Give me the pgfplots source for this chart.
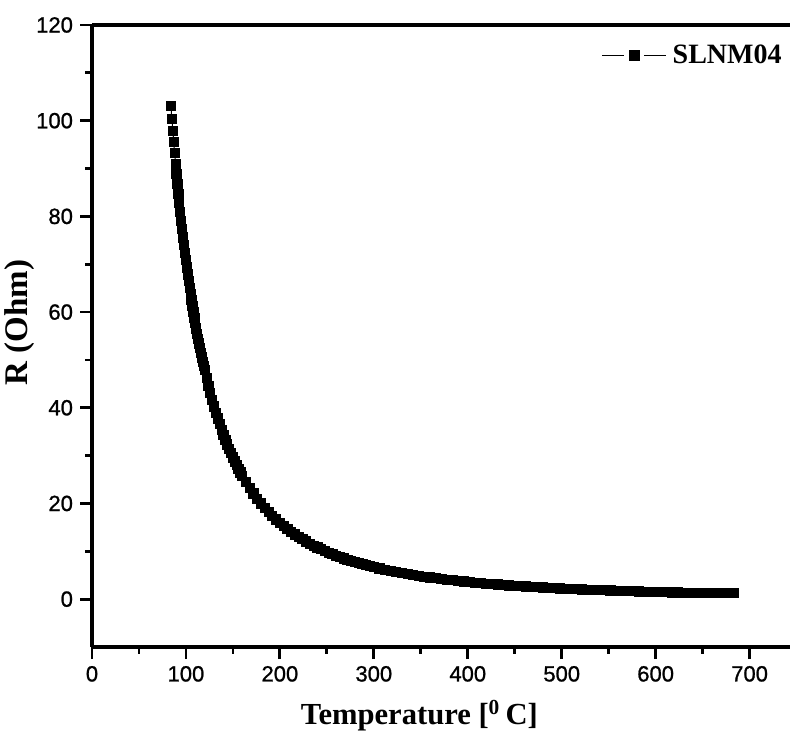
\documentclass[border=0pt]{standalone}
\usepackage{pgfplots}
\pgfplotsset{compat=1.18}
\usepackage{fontspec}
\setmainfont{Liberation Serif}
\newfontfamily\arialfont{Liberation Sans}[FakeBold=1]

\begin{document}
\begin{tikzpicture}
\useasboundingbox (0,0) rectangle (395pt,365.5pt);
\begin{axis}[
    at={(46pt,42pt)}, anchor=south west,
    scale only axis,
    width=349pt, height=311pt,
    xmin=0, xmax=743,
    ymin=-10, ymax=120,
    xtick={0,100,...,700},
    ytick={0,20,...,120},
    minor x tick num=1,
    minor y tick num=1,
    axis x line*=box,
    axis y line*=left,
    xtick pos=bottom, ytick pos=left,
    tick align=outside,
    major tick length=6pt,
    minor tick length=3.5pt,
    every tick/.style={black, line width=1.4pt},
    axis line style={black, line width=1.8pt},
    tick label style={font=\arialfont\fontsize{11}{13}\selectfont},
    /pgf/number format/assume math mode=true,
    xlabel={Temperature [\textsuperscript{0}\,C]},
    ylabel={R (Ohm)},
    xlabel style={font=\bfseries\fontsize{15.3}{17}\selectfont,
        at={(rel axis cs:0.469,-0.1254)}, anchor=base},
    ylabel style={font=\bfseries\fontsize{16.5}{18}\selectfont,
        at={(rel axis cs:-0.0716,0.522)}, anchor=south},
    legend style={at={(rel axis cs:1,0.951)}, anchor=east, draw=none, fill=none,
        font=\bfseries\fontsize{14}{16}\selectfont,
        nodes={inner sep=1pt}, column sep=2pt},
    legend image code/.code={
        \draw[line width=0.6pt] (0pt,0pt) -- (11pt,0pt);
        \draw[line width=0.6pt] (21pt,0pt) -- (32pt,0pt);
        \fill (13.5pt,-2.5pt) rectangle (18.5pt,2.5pt);
    },
]
\addplot[black, line width=0.5pt, mark=square*, mark size=2.3pt] table {
T R
84 103.0
85 100.41
86 97.92
87 95.51
88 93.20
89 90.96
90 88.80
91 86.72
92 84.70
93 82.76
94 80.87
95 79.06
96 77.30
97 75.59
98 73.94
99 72.35
100 70.80
101 69.31
102 67.85
103 66.45
104 65.07
105 63.75
106 62.46
107 61.22
108 60.00
109 58.83
110 57.68
111 56.57
112 55.49
113 54.45
114 53.42
115 52.43
116 51.46
117 50.52
118 49.60
119 48.71
120 47.84
122 46.17
124 44.58
126 43.08
128 41.64
130 40.28
132 38.98
134 37.74
136 36.55
138 35.42
140 34.35
142 33.32
144 32.33
146 31.39
148 30.48
150 29.62
152 28.78
154 27.99
156 27.22
158 26.48
160 25.77
164 24.44
168 23.21
172 22.06
176 21.00
180 20.01
184 19.08
188 18.22
192 17.42
196 16.66
200 15.95
204 15.29
208 14.66
212 14.07
216 13.52
220 13.00
224 12.50
228 12.04
232 11.59
236 11.18
240 10.78
244 10.40
248 10.05
252 9.72
256 9.38
260 9.08
264 8.78
268 8.50
272 8.24
276 7.98
280 7.74
284 7.51
288 7.28
292 7.07
296 6.87
300 6.67
306 6.39
312 6.13
318 5.89
324 5.65
330 5.43
336 5.23
342 5.03
348 4.85
354 4.67
360 4.51
366 4.35
372 4.20
378 4.06
384 3.92
390 3.79
396 3.67
402 3.56
408 3.44
414 3.34
420 3.24
426 3.14
432 3.05
438 2.96
444 2.87
450 2.79
456 2.71
462 2.64
468 2.56
474 2.50
480 2.43
486 2.36
492 2.30
498 2.24
504 2.19
510 2.13
516 2.08
522 2.03
528 1.98
534 1.93
540 1.89
546 1.84
552 1.80
558 1.76
564 1.72
570 1.68
576 1.64
582 1.61
588 1.57
594 1.54
600 1.50
606 1.47
612 1.44
618 1.41
624 1.38
630 1.36
636 1.34
642 1.32
648 1.30
654 1.28
660 1.26
666 1.25
672 1.24
678 1.23
683 1.22
};
\addlegendentry{SLNM04}
\end{axis}
\end{tikzpicture}
\end{document}
